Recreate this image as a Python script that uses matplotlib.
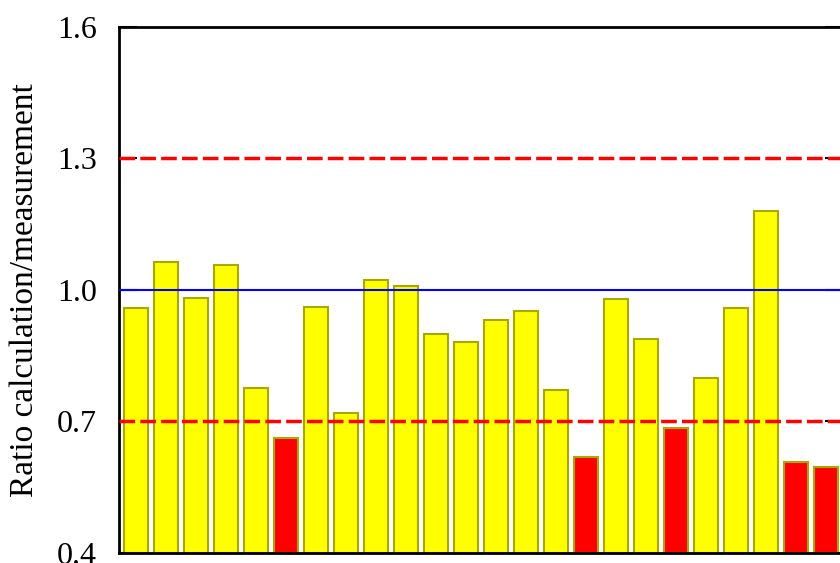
import matplotlib
matplotlib.use("Agg")
import matplotlib.pyplot as plt
import numpy as np

plt.rcParams['font.family'] = ['Liberation Serif', 'DejaVu Serif']

# calculated / measured ratio for each case
ratios = [0.958, 1.063, 0.981, 1.057, 0.776, 0.662, 0.962, 0.719,
          1.022, 1.009, 0.900, 0.882, 0.931, 0.953, 0.772, 0.618,
          0.979, 0.888, 0.686, 0.799, 0.959, 1.180, 0.607, 0.597]
yticks = [0.4, 0.7, 1.0, 1.3, 1.6]
lower_limit = 0.7
upper_limit = 1.3

x = np.arange(1, len(ratios) + 1)
colors = ['#ff0000' if r < lower_limit else '#ffff00' for r in ratios]

fig = plt.figure(figsize=(8.4, 5.63), dpi=100)
ax = fig.add_axes([119 / 840, 10 / 563, 724 / 840, 526 / 563])

ax.bar(x, np.array(ratios) - 0.4, bottom=0.4, width=0.83, color=colors,
       edgecolor='#a8a800', linewidth=1.5, zorder=2)

ax.axhline(1.0, color='#0000ff', linewidth=1.5, zorder=3)
for lim in (lower_limit, upper_limit):
    ax.axhline(lim, color='#ff0000', linewidth=2.5, dashes=(4.5, 1.5), zorder=3)

ax.set_xlim(0.433, len(ratios) + 0.567)
ax.set_ylim(0.4, 1.6)
ax.set_xticks([])
ax.set_yticks(yticks)
ax.set_yticklabels([f"{t:.1f}" for t in yticks])
ax.tick_params(axis='y', direction='in', length=13, width=1.5, pad=16,
               labelsize=23, right=True)
for sp in ax.spines.values():
    sp.set_linewidth(2)

ax.set_ylabel('Ratio calculation/measurement', fontsize=24, labelpad=12)

fig.savefig('out.png', dpi=100)
